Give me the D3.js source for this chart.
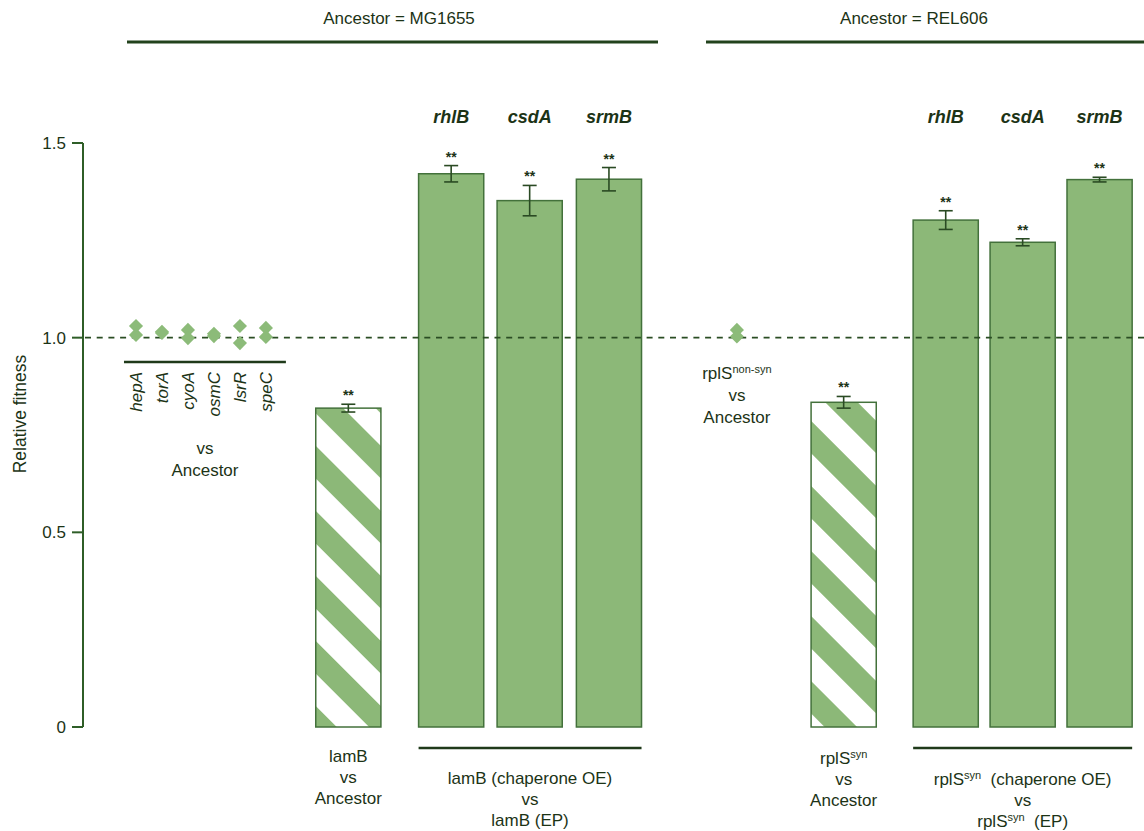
<!DOCTYPE html>
<html>
<head>
<meta charset="utf-8">
<script src="https://cdn.jsdelivr.net/npm/d3@7"></script>
<style>
  html, body { margin: 0; padding: 0; background: #ffffff; }
  svg { display: block; }
  text { font-family: "Liberation Sans", Arial, Helvetica, sans-serif; fill: #1c3316; }
</style>
</head>
<body>
<svg id="chart" width="1144" height="831"></svg>
<script>
// ---------------- data ----------------
const pointGenes = ["hepA", "torA", "cyoA", "osmC", "lsrR", "speC"];
const pointValues = [[1.030, 1.007], [1.015, 1.012], [1.020, 0.999], [1.010, 1.004], [1.030, 0.986], [1.025, 1.002]];
const nonSynValues = [1.020, 1.003];

const mgBarNames = ["lamB", "rhlB", "csdA", "srmB"];
const mgBarValues = [0.819, 1.421, 1.352, 1.407];
const mgBarErrors = [0.010, 0.021, 0.039, 0.030];

const relBarNames = ["rplS", "rhlB", "csdA", "srmB"];
const relBarValues = [0.834, 1.302, 1.245, 1.406];
const relBarErrors = [0.015, 0.024, 0.009, 0.006];

const barSignif = ["**", "**", "**", "**"];
const yTicks = [0, 0.5, 1.0, 1.5];
const yTickLabels = ["0", "0.5", "1.0", "1.5"];
const headers = ["Ancestor = MG1655", "Ancestor = REL606"];

// ---------------- setup ----------------
const svg = d3.select("#chart");
const C = {
  fill: "#8cb878", stroke: "#43713b", dark: "#2a4a23", axis: "#2f5e27",
  text: "#1c3316", point: "#8cbb79"
};
const axisX = 83;
const y = d3.scaleLinear().domain([0, 1.5]).range([727, 143]);
// slot scale: one unit = one bar slot
const xs = d3.scaleLinear().domain([0, 1]).range([axisX, axisX + 78.5]);
const barW = xs(0.83) - xs(0);

// slot positions (layout)
const mgSlots = [3.38, 4.69, 5.69, 6.70];
const relSlots = [9.69, 10.99, 11.97, 12.95];
const nonSynSlot = 8.33;
const xp = d3.scalePoint().domain(pointGenes).range([xs(0.675), xs(2.33)]);

const defs = svg.append("defs");
const pat = defs.append("pattern")
  .attr("id", "hatch").attr("patternUnits", "userSpaceOnUse")
  .attr("width", 46).attr("height", 46)
  .attr("patternTransform", "rotate(45)");
pat.append("rect").attr("width", 46).attr("height", 46).attr("fill", "#ffffff");
pat.append("rect").attr("width", 46).attr("height", 23).attr("fill", C.fill);

// ---------------- headers ----------------
const headerLines = [[127, 658], [706, 1144]];
headerLines.forEach((h) => {
  svg.append("line").attr("x1", h[0]).attr("x2", h[1]).attr("y1", 42).attr("y2", 42)
    .attr("stroke", "#22421c").attr("stroke-width", 3);
});
svg.append("text").attr("x", 399).attr("y", 24).attr("text-anchor", "middle")
  .attr("font-size", 17).text(headers[0]);
svg.append("text").attr("x", 914).attr("y", 24).attr("text-anchor", "middle")
  .attr("font-size", 17).text(headers[1]);

// ---------------- y axis ----------------
const ax = svg.append("g");
ax.append("line").attr("x1", axisX).attr("x2", axisX).attr("y1", y(0)).attr("y2", y(1.5))
  .attr("stroke", C.axis).attr("stroke-width", 2);
yTicks.forEach((t, i) => {
  ax.append("line").attr("x1", axisX - 11).attr("x2", axisX).attr("y1", y(t)).attr("y2", y(t))
    .attr("stroke", C.axis).attr("stroke-width", 2);
  ax.append("text").attr("x", axisX - 17).attr("y", y(t)).attr("dy", "0.35em")
    .attr("text-anchor", "end").attr("font-size", 17).text(yTickLabels[i]);
});
svg.append("text").attr("transform", `translate(20,${414}) rotate(-90)`)
  .attr("text-anchor", "middle").attr("dy", "0.35em").attr("font-size", 17.5).text("Relative fitness");

// ---------------- bars ----------------
function drawBars(names, values, slots, hatchedFirst) {
  const g = svg.append("g");
  names.forEach((n, i) => {
    const cx = xs(slots[i]);
    g.append("rect")
      .attr("x", cx - barW / 2).attr("width", barW)
      .attr("y", y(values[i])).attr("height", y(0) - y(values[i]))
      .attr("fill", (hatchedFirst && i === 0) ? "url(#hatch)" : C.fill)
      .attr("stroke", C.stroke).attr("stroke-width", 1.5);
  });
  return g;
}
function drawErrors(names, values, errors, slots) {
  names.forEach((n, i) => {
    const cx = xs(slots[i]);
    const yt = y(values[i] + errors[i]), yb = y(values[i] - errors[i]);
    const g = svg.append("g").attr("stroke", C.dark).attr("stroke-width", 1.6);
    g.append("line").attr("x1", cx).attr("x2", cx).attr("y1", yt).attr("y2", yb);
    g.append("line").attr("x1", cx - 7).attr("x2", cx + 7).attr("y1", yt).attr("y2", yt);
    g.append("line").attr("x1", cx - 7).attr("x2", cx + 7).attr("y1", yb).attr("y2", yb);
    svg.append("text").attr("x", cx).attr("y", yt - 4).attr("text-anchor", "middle")
      .attr("font-size", 14).attr("font-weight", "bold").text(barSignif[i]);
    if (i > 0) {
      svg.append("text").attr("x", cx).attr("y", 123).attr("text-anchor", "middle")
        .attr("font-size", 18).attr("font-weight", "bold").attr("font-style", "italic").text(n);
    }
  });
}
drawBars(mgBarNames, mgBarValues, mgSlots, true);
drawBars(relBarNames, relBarValues, relSlots, true);

// ---------------- reference line ----------------
svg.append("line").attr("x1", axisX + 2).attr("x2", 1144).attr("y1", y(1)).attr("y2", y(1))
  .attr("stroke", "#2a4d23").attr("stroke-width", 1.6).attr("stroke-dasharray", "6,5.7");

drawErrors(mgBarNames, mgBarValues, mgBarErrors, mgSlots);
drawErrors(relBarNames, relBarValues, relBarErrors, relSlots);

// ---------------- points ----------------
function drawDiamond(cx, v) {
  svg.append("rect")
    .attr("x", -5).attr("y", -5).attr("width", 10).attr("height", 10)
    .attr("transform", `translate(${cx},${y(v)}) rotate(45)`)
    .attr("fill", C.point);
}
pointGenes.forEach((gname, i) => {
  pointValues[i].forEach(v => drawDiamond(xp(gname), v));
  svg.append("text")
    .attr("transform", `translate(${xp(gname)},372) rotate(-90)`)
    .attr("text-anchor", "end").attr("dy", "0.35em")
    .attr("font-size", 17).attr("font-style", "italic").text(gname);
});
nonSynValues.forEach(v => drawDiamond(xs(nonSynSlot), v));

// points group underline and labels
const pg0 = xp(pointGenes[0]) - 12, pg1 = xp(pointGenes[pointGenes.length - 1]) + 20;
svg.append("line").attr("x1", pg0).attr("x2", pg1).attr("y1", 362).attr("y2", 362)
  .attr("stroke", "#1f3a1a").attr("stroke-width", 2.5);
function multiLine(x, yStart, lines, step) {
  lines.forEach((l, i) => {
    const t = svg.append("text").attr("x", x).attr("y", yStart + i * step)
      .attr("text-anchor", "middle").attr("font-size", 17);
    let pending = 0;
    l.forEach(seg => {
      if (seg.sup) {
        t.append("tspan").attr("font-size", 11).attr("dy", -6).text(seg.t);
        pending = 6;
      } else {
        const ts = t.append("tspan").text(seg.t);
        if (pending) { ts.attr("dy", pending); pending = 0; }
      }
    });
  });
}
multiLine((pg0 + pg1) / 2, 454, [[{t: "vs"}], [{t: "Ancestor"}]], 22);

// rplS non-syn label
multiLine(xs(nonSynSlot), 379, [[{t: "rplS"}, {t: "non-syn", sup: true}], [{t: "vs"}], [{t: "Ancestor"}]], 22);

// bar labels
multiLine(xs(mgSlots[0]), 762, [[{t: "lamB"}], [{t: "vs"}], [{t: "Ancestor"}]], 21);
multiLine(xs(relSlots[0]), 764, [[{t: "rplS"}, {t: "syn", sup: true}], [{t: "vs"}], [{t: "Ancestor"}]], 21);

// group underlines for chaperone bars
function groupLine(slots) {
  const x0 = xs(slots[1]) - barW / 2, x1 = xs(slots[3]) + barW / 2;
  svg.append("line").attr("x1", x0).attr("x2", x1).attr("y1", 748).attr("y2", 748)
    .attr("stroke", "#1f3a1a").attr("stroke-width", 2.5);
  return (x0 + x1) / 2;
}
const mgMid = groupLine(mgSlots);
const relMid = groupLine(relSlots);
multiLine(mgMid, 784, [[{t: "lamB (chaperone OE)"}], [{t: "vs"}], [{t: "lamB (EP)"}]], 21);
multiLine(relMid, 785, [[{t: "rplS"}, {t: "syn", sup: true}, {t: "\u00a0\u00a0(chaperone OE)"}], [{t: "vs"}], [{t: "rplS"}, {t: "syn", sup: true}, {t: "\u00a0\u00a0(EP)"}]], 21);
</script>
</body>
</html>
